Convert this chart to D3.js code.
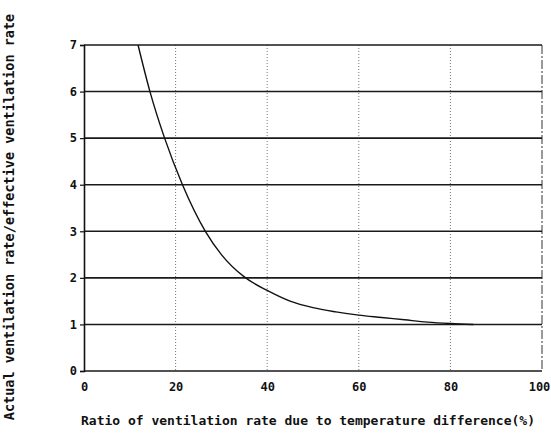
<!DOCTYPE html>
<html>
<head>
<meta charset="utf-8">
<script src="https://cdn.jsdelivr.net/npm/d3@7"></script>
<style>
  body { margin: 0; background: #fff; }
  text { font-family: "DejaVu Sans Mono", monospace; fill: #111; }
</style>
</head>
<body>
<div id="grafico"></div>
<script>
// values
const ratio = [11.8, 14.4, 17.6, 21.5, 26.5, 30, 35, 40, 45, 50, 55, 60, 65, 70, 75, 80, 85];
const rateRatio = [7, 6, 5, 4, 3, 2.5, 2.02, 1.73, 1.5, 1.36, 1.27, 1.2, 1.15, 1.1, 1.05, 1.02, 1.0];
const xTicks = [0, 20, 40, 60, 80, 100];
const yTicks = [0, 1, 2, 3, 4, 5, 6, 7];
const xTitle = "Ratio of ventilation rate due to temperature difference(%)";
const yTitle = "Actual ventilation rate/effective ventilation rate";

const margin = { top: 45, left: 84, bottom: 69, right: 9 };
const width = 551 - margin.left - margin.right;
const height = 440 - margin.top - margin.bottom;

const svg = d3.select("#grafico")
              .append("svg")
              .attr("width", 551)
              .attr("height", 440);

const g = svg.append("g")
             .attr("transform", `translate(${margin.left}, ${margin.top})`);

const xScale = d3.scaleLinear()
                 .domain([0, 100])
                 .range([0, width]);

const yScale = d3.scaleLinear()
                 .domain([0, 7])
                 .range([height, 0]);

// vertical dotted grid
g.selectAll(".vgrid")
 .data(xTicks.filter(d => d > 0 && d < 100))
 .join("line")
 .attr("x1", d => xScale(d))
 .attr("x2", d => xScale(d))
 .attr("y1", 0)
 .attr("y2", height)
 .attr("stroke", "#777")
 .attr("stroke-width", 1)
 .attr("stroke-dasharray", "1,2");

// right border, broken line
g.append("line")
 .attr("x1", width).attr("x2", width)
 .attr("y1", 0).attr("y2", height)
 .attr("stroke", "#333")
 .attr("stroke-width", 1)
 .attr("stroke-dasharray", "9,2,2,2");

// horizontal solid grid
g.selectAll(".hgrid")
 .data(yTicks)
 .join("line")
 .attr("x1", 0)
 .attr("x2", width)
 .attr("y1", d => yScale(d))
 .attr("y2", d => yScale(d))
 .attr("stroke", "#1a1a1a")
 .attr("stroke-width", 1.6);

// y axis
const yAxisCall = d3.axisLeft(yScale)
                    .tickValues(yTicks)
                    .tickFormat(d3.format("d"))
                    .tickSize(4)
                    .tickPadding(3);

const yAxis = g.append("g").call(yAxisCall);
yAxis.select(".domain").attr("stroke", "#111").attr("stroke-width", 1.6);
yAxis.selectAll(".tick line").attr("stroke", "#111").attr("stroke-width", 1.2);
yAxis.selectAll("text")
     .style("font-family", "DejaVu Sans Mono, monospace")
     .style("font-size", "12px")
     .style("font-weight", "bold")
     .attr("fill", "#111");

// x axis
const xAxisCall = d3.axisBottom(xScale)
                    .tickValues(xTicks)
                    .tickFormat(d3.format("d"))
                    .tickSize(0)
                    .tickPadding(11);

const xAxis = g.append("g")
               .attr("transform", `translate(0, ${height})`)
               .call(xAxisCall);
xAxis.select(".domain").remove();
xAxis.selectAll("text")
     .style("font-family", "DejaVu Sans Mono, monospace")
     .style("font-size", "12px")
     .style("font-weight", "bold")
     .attr("fill", "#111")
     .attr("dx", d => d === 100 ? -3 : 0);

// curve
const points = ratio.map((r, i) => [r, rateRatio[i]]);
const line = d3.line()
               .x(d => xScale(d[0]))
               .y(d => yScale(d[1]))
               .curve(d3.curveMonotoneX);

g.append("path")
 .datum(points)
 .attr("d", line)
 .attr("fill", "none")
 .attr("stroke", "#111")
 .attr("stroke-width", 1.4);

// titles
svg.append("text")
   .attr("x", 308)
   .attr("y", 425)
   .attr("text-anchor", "middle")
   .style("font-size", "13px")
   .style("font-weight", "bold")
   .text(xTitle);

svg.append("text")
   .attr("transform", "translate(14, 217) rotate(-90)")
   .attr("text-anchor", "middle")
   .style("font-size", "13.5px")
   .style("font-weight", "bold")
   .text(yTitle);
</script>
</body>
</html>
